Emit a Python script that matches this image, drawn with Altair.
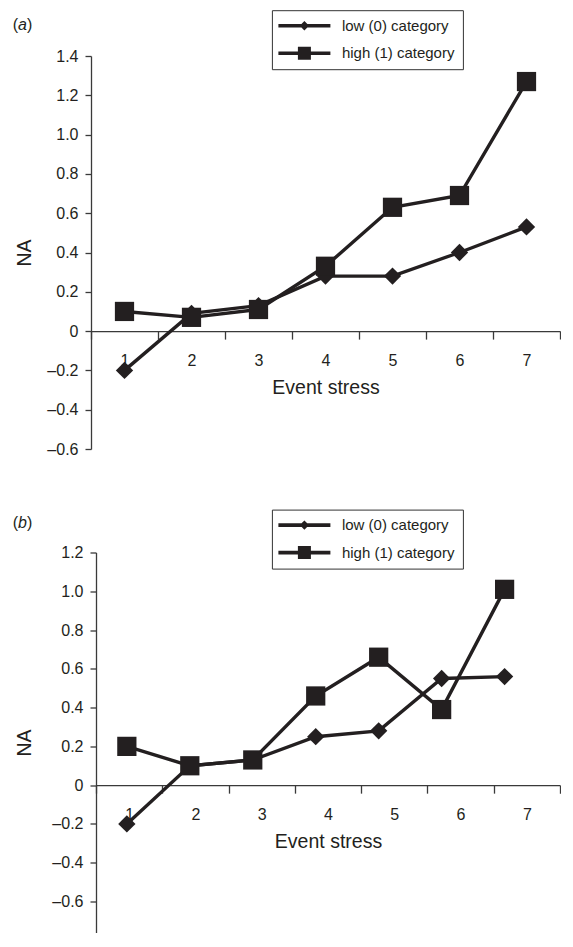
import altair as alt
import pandas as pd

# ---------------- data ----------------
stress = [1, 2, 3, 4, 5, 6, 7]
stress_labels = ["1", "2", "3", "4", "5", "6", "7"]
series_names = ["low (0) category", "high (1) category"]

low_a = [-0.20, 0.09, 0.13, 0.28, 0.28, 0.40, 0.53]
high_a = [0.10, 0.07, 0.11, 0.33, 0.63, 0.69, 1.27]

low_b = [-0.20, 0.10, 0.13, 0.25, 0.28, 0.55, 0.56]
high_b = [0.20, 0.10, 0.13, 0.46, 0.66, 0.39, 1.01]

y_ticks_a = [-0.6, -0.4, -0.2, 0.0, 0.2, 0.4, 0.6, 0.8, 1.0, 1.2, 1.4]
y_ticks_b = [-0.6, -0.4, -0.2, 0.0, 0.2, 0.4, 0.6, 0.8, 1.0, 1.2]

FONT = "Liberation Sans"
INK = "#231f20"
AXC = "#3a3a3a"

# legend symbols (filled outlines): a bar-line with a diamond / square marker
PATH_LOW = "M-4,-0.28H4V0.28H-4ZM0,-0.72L0.72,0L0,0.72L-0.72,0Z"
PATH_HIGH = "M-4,-0.28H4V0.28H-4ZM-1,-1H1V1H-1Z"

Y_LABEL_EXPR = ("datum.value == 0 ? '0' : "
                "replace(replace(format(datum.value, '.1f'), '\u2212', '\u2013'), '-', '\u2013')")

W = 469


def panel(letter, low, high, x_domain, y_domain, y_ticks, height, title_pad, shift,
          legend_x, legend_y, lab_x, lab_y):
    rows = []
    for s, v in zip(stress, low):
        rows.append({"stress": s, "value": v, "series": series_names[0]})
    for s, v in zip(stress, high):
        rows.append({"stress": s, "value": v, "series": series_names[1]})
    df = pd.DataFrame(rows)
    df_low = df[df.series == series_names[0]]
    df_high = df[df.series == series_names[1]]

    zero_from_top = (y_domain[1] - 0) / (y_domain[1] - y_domain[0]) * height
    x_offset = -(height - zero_from_top)

    axis_layer = alt.Chart(pd.DataFrame({"cat": stress_labels})).mark_point(opacity=0).encode(
        x=alt.X("cat:O", sort=stress_labels,
                scale=alt.Scale(type="band", paddingInner=0, paddingOuter=0, range=[shift, W]),
                axis=alt.Axis(orient="bottom", title="Event stress", tickBand="extent",
                              offset=x_offset, labelAngle=0, tickSize=8, labelPadding=13,
                              titlePadding=10, labelFontSize=16, titleFontSize=19.5,
                              titleFontWeight="normal", labelFont=FONT, titleFont=FONT,
                              labelColor=INK, titleColor=INK, domainColor=AXC, tickColor=AXC,
                              domainWidth=1.3, tickWidth=1.3, grid=False))
    )

    xq = alt.X("stress:Q", scale=alt.Scale(domain=x_domain, nice=False, zero=False,
                                           range=[shift, W]), axis=None)
    yq = alt.Y("value:Q", scale=alt.Scale(domain=y_domain, nice=False, zero=False),
               axis=alt.Axis(values=y_ticks, title="NA", labelExpr=Y_LABEL_EXPR,
                             offset=-shift, tickSize=6, labelPadding=7, titlePadding=title_pad,
                             labelFontSize=16, titleFontSize=19.5, titleFontWeight="normal",
                             labelFont=FONT, titleFont=FONT, labelColor=INK, titleColor=INK,
                             domainColor=AXC, tickColor=AXC, domainWidth=1.3, tickWidth=1.3,
                             grid=False))

    lines = alt.Chart(df).mark_line(color=INK, strokeWidth=3.4).encode(
        x=xq, y=yq, detail="series:N")
    pts_low = alt.Chart(df_low).mark_point(shape="diamond", filled=True, color=INK,
                                           opacity=1, size=300).encode(x=xq, y=yq)
    pts_high = alt.Chart(df_high).mark_point(shape="square", filled=True, color=INK,
                                             opacity=1, size=370).encode(x=xq, y=yq)

    leg = alt.Chart(pd.DataFrame({"series": series_names})).mark_point(
        filled=True, color=INK, strokeWidth=0, opacity=0).encode(
        shape=alt.Shape("series:N",
                        scale=alt.Scale(domain=series_names, range=[PATH_LOW, PATH_HIGH]),
                        legend=alt.Legend(title=None, orient="none", legendX=legend_x,
                                          legendY=legend_y, symbolSize=169,
                                          symbolStrokeWidth=0, symbolFillColor=INK,
                                          symbolOpacity=1,
                                          symbolOffset=17, labelOffset=30,
                                          labelFontSize=15, labelFont=FONT, labelColor=INK,
                                          rowPadding=11.5, padding=8, strokeColor="#333333",
                                          fillColor="white", labelLimit=300)))

    base = alt.Chart(alt.Data(values=[{}]))
    t1 = base.mark_text(text="(", align="left", baseline="middle", fontSize=16,
                        font=FONT, color=INK).encode(x=alt.value(lab_x), y=alt.value(lab_y))
    t2 = base.mark_text(text=letter, align="left", baseline="middle", fontSize=16,
                        fontStyle="italic", font=FONT, color=INK).encode(
        x=alt.value(lab_x + 5.4), y=alt.value(lab_y))
    t3 = base.mark_text(text=")", align="left", baseline="middle", fontSize=16,
                        font=FONT, color=INK).encode(x=alt.value(lab_x + 14.4), y=alt.value(lab_y))

    return alt.layer(axis_layer, lines, pts_low, pts_high, leg, t1, t2, t3).resolve_scale(
        x="independent").properties(width=W, height=height)


pa = panel("a", low_a, high_a, [0.5, 7.5], [-0.6, 1.4], y_ticks_a, 393, 12, 0,
           180.9, -45.8, -78.3, -31.2)
pb = panel("b", low_b, high_b, [0.51, 7.88], [-0.76, 1.2], y_ticks_b, 380, 17, 5,
           180.9, -42.9, -78.3, -29.4)

chart = alt.vconcat(pa, pb, spacing=51.5).resolve_scale(shape="independent").resolve_legend(
    shape="independent").properties(
    padding={"left": 4, "top": 1, "right": 0, "bottom": 0}
).configure_view(stroke=None)

chart.save("out.html", embed_options={"renderer": "svg", "actions": False})
